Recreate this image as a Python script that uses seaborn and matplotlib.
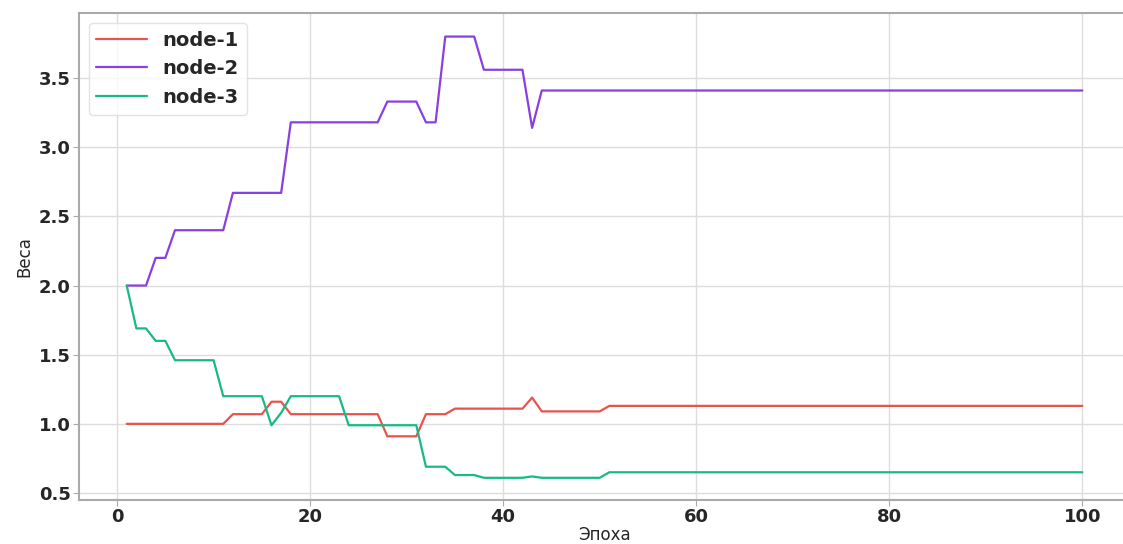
import pandas as pd
import matplotlib
matplotlib.use("Agg")
import matplotlib.pyplot as plt
import seaborn as sns

# --------------------------------------
# DATA
# --------------------------------------

epochs = list(range(1, 101))

node1 = [
    1.0, 1.0, 1.0, 1.0, 1.0, 1.0, 1.0, 1.0, 1.0, 1.0,
    1.0, 1.07, 1.07, 1.07, 1.07, 1.16, 1.16, 1.07, 1.07, 1.07,
    1.07, 1.07, 1.07, 1.07, 1.07, 1.07, 1.07, 0.91, 0.91, 0.91,
    0.91, 1.07, 1.07, 1.07, 1.11, 1.11, 1.11, 1.11, 1.11, 1.11,
    1.11, 1.11, 1.19, 1.09, 1.09, 1.09, 1.09, 1.09, 1.09, 1.09,
    1.13, 1.13, 1.13, 1.13, 1.13, 1.13, 1.13, 1.13, 1.13, 1.13,
    1.13, 1.13, 1.13, 1.13, 1.13, 1.13, 1.13, 1.13, 1.13, 1.13,
    1.13, 1.13, 1.13, 1.13, 1.13, 1.13, 1.13, 1.13, 1.13, 1.13,
    1.13, 1.13, 1.13, 1.13, 1.13, 1.13, 1.13, 1.13, 1.13, 1.13,
    1.13, 1.13, 1.13, 1.13, 1.13, 1.13, 1.13, 1.13, 1.13, 1.13,
]

node2 = [
    2.0, 2.0, 2.0, 2.2, 2.2, 2.4, 2.4, 2.4, 2.4, 2.4,
    2.4, 2.67, 2.67, 2.67, 2.67, 2.67, 2.67, 3.18, 3.18, 3.18,
    3.18, 3.18, 3.18, 3.18, 3.18, 3.18, 3.18, 3.33, 3.33, 3.33,
    3.33, 3.18, 3.18, 3.8, 3.8, 3.8, 3.8, 3.56, 3.56, 3.56,
    3.56, 3.56, 3.14, 3.41, 3.41, 3.41, 3.41, 3.41, 3.41, 3.41,
    3.41, 3.41, 3.41, 3.41, 3.41, 3.41, 3.41, 3.41, 3.41, 3.41,
    3.41, 3.41, 3.41, 3.41, 3.41, 3.41, 3.41, 3.41, 3.41, 3.41,
    3.41, 3.41, 3.41, 3.41, 3.41, 3.41, 3.41, 3.41, 3.41, 3.41,
    3.41, 3.41, 3.41, 3.41, 3.41, 3.41, 3.41, 3.41, 3.41, 3.41,
    3.41, 3.41, 3.41, 3.41, 3.41, 3.41, 3.41, 3.41, 3.41, 3.41,
]

node3 = [
    2.0, 1.69, 1.69, 1.6, 1.6, 1.46, 1.46, 1.46, 1.46, 1.46,
    1.2, 1.2, 1.2, 1.2, 1.2, 0.99, 1.08, 1.2, 1.2, 1.2,
    1.2, 1.2, 1.2, 0.99, 0.99, 0.99, 0.99, 0.99, 0.99, 0.99,
    0.99, 0.69, 0.69, 0.69, 0.63, 0.63, 0.63, 0.61, 0.61, 0.61,
    0.61, 0.61, 0.62, 0.61, 0.61, 0.61, 0.61, 0.61, 0.61, 0.61,
    0.65, 0.65, 0.65, 0.65, 0.65, 0.65, 0.65, 0.65, 0.65, 0.65,
    0.65, 0.65, 0.65, 0.65, 0.65, 0.65, 0.65, 0.65, 0.65, 0.65,
    0.65, 0.65, 0.65, 0.65, 0.65, 0.65, 0.65, 0.65, 0.65, 0.65,
    0.65, 0.65, 0.65, 0.65, 0.65, 0.65, 0.65, 0.65, 0.65, 0.65,
    0.65, 0.65, 0.65, 0.65, 0.65, 0.65, 0.65, 0.65, 0.65, 0.65,
]

labels = ["node-1", "node-2", "node-3"]
colors = ["#e8534c", "#8a3fe0", "#17b987"]

# --------------------------------------
# PLOT
# --------------------------------------

sns.set_style("whitegrid")
plt.rcParams["font.family"] = ["DejaVu Sans"]

fig = plt.figure(figsize=(11.23, 5.44), dpi=100)
ax = fig.add_axes([0.0703, 0.081, 0.936, 0.895])

for values, label, color in zip([node1, node2, node3], labels, colors):
    sns.lineplot(x=epochs, y=values, label=label, color=color, linewidth=1.6, ax=ax)

ax.set_xlim(-3.95, 104.95)
ax.set_ylim(0.45, 3.97)
ax.set_xticks([0, 20, 40, 60, 80, 100])
ax.set_yticks([0.5, 1.0, 1.5, 2.0, 2.5, 3.0, 3.5])

ax.grid(True, color="#dddddd", linewidth=1.0)
for side in ax.spines.values():
    side.set_color("#aaaaaa")
    side.set_linewidth(1.5)

ax.tick_params(axis="both", which="major", labelsize=13, length=4, pad=2,
               color="#aaaaaa", bottom=True, left=True)
for t in ax.get_xticklabels() + ax.get_yticklabels():
    t.set_fontweight("bold")

ax.set_xlabel("Эпоха", fontsize=12, labelpad=0)
ax.set_ylabel("Веса", fontsize=12)

ax.legend(loc="upper left", prop={"weight": "bold", "size": 14},
          handlelength=2.6, frameon=True, edgecolor="#dddddd")

plt.savefig("out.png", dpi=100)
